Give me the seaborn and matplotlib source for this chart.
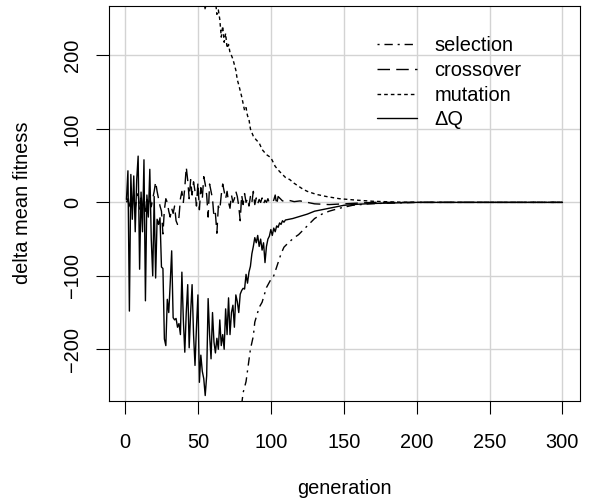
import matplotlib
matplotlib.use("Agg")
import matplotlib.pyplot as plt
import seaborn as sns

# generations and values
dq_gen = list(range(1, 111)) + [115, 120, 125, 130, 135, 140, 145, 150, 160, 170, 180, 190, 200, 250, 300]
dq_val = [4, 43, -148, 38, -23, 36, -40, 30, 63, -91,
          14, -40, 58, -134, 10, -20, 45, -50, -100, 8,
          -103, -23, -30, -21, -88, -90, -186, -195, -132, -150,
          -110, -66, -157, -160, -158, -170, -165, -180, -95, -160,
          -204, -150, -112, -198, -150, -112, -180, -222, -170, -126,
          -245, -208, -230, -240, -263, -236, -131, -180, -213, -150,
          -190, -205, -185, -200, -160, -195, -180, -200, -145, -180,
          -130, -180, -150, -140, -170, -126, -135, -150, -125, -120,
          -117, -118, -98, -110, -95, -87, -70, -60, -48, -55,
          -45, -60, -50, -65, -55, -82, -60, -50, -46, -37,
          -45, -35, -40, -32, -34, -28, -30, -25, -27, -24,
          -22, -19, -16, -12, -10, -8, -6, -4, -2.5, -1.5, -1, -0.5, 0, 0, 0]

cross_gen = list(range(1, 101)) + [102, 103, 104, 105, 108, 112, 116, 120, 125, 130, 140, 150, 160, 170, 200, 250, 300]
cross_val = [0, 5, -10, 8, -5, 10, -8, 5, 12, -10,
             6, -5, 10, -12, 4, -3, 8, -6, 5, 15,
             28, 15, 5, -5, -12, -43, -10, 5, 0, -12,
             -20, -8, -15, -5, -25, -30, -20, 5, 15, 0,
             20, 48, 30, 5, 31, 10, 28, 15, -5, 27,
             -10, 20, 5, 35, 25, 10, -20, 25, 15, 5,
             -20, -15, -42, -5, -10, 10, 25, 15, 5, 15,
             0, -8, 10, 0, 5, 15, 8, -5, -25, 10,
             -3, 12, 0, 5, -5, 8, 0, 15, -3, 6,
             -2, 4, 0, 6, -2, 3, 0, 5, -1, 0,
             3, 10, -3, 8, 2, 3, 1, 2, 0, -2, -3, -2, -1, 0, 0, 0, 0]

mut_gen = [50, 52, 54, 55, 56, 57, 59, 61, 62, 63, 64, 65, 66, 67, 68, 69, 70, 71, 72, 73,
           74, 76, 77, 78, 80, 82, 83, 84, 85, 86, 88, 90, 92, 94, 97, 100, 103, 106, 108, 110,
           113, 116, 119, 122, 125, 131, 138, 147, 159, 170, 185, 200, 250, 300]
mut_val = [340, 310, 285, 262, 280, 300, 310, 290, 275, 256, 262, 249, 225, 240, 218, 230, 210, 215, 204, 200,
           195, 180, 167, 160, 144, 125, 129, 118, 113, 100, 90, 85, 81, 72, 65, 61, 49, 42, 38, 34,
           31, 26, 22, 18, 15, 11, 8, 5, 3, 1.5, 0.5, 0, 0, 0]

sel_gen = [76, 78, 80, 81, 83, 86, 88, 89, 92, 94, 97, 100, 102, 105, 107, 109, 112, 116, 119, 124,
           130, 135, 140, 147, 156, 167, 180, 200, 250, 300]
sel_val = [-340, -300, -275, -259, -244, -200, -182, -163, -143, -136, -116, -105, -100, -82, -70, -61, -55, -48, -44, -34,
           -22, -16, -12, -8, -4, -2, -1, 0, 0, 0]

x_ticks = [0, 50, 100, 150, 200, 250, 300]
y_ticks = [-200, -100, 0, 100, 200]

sns.set_style("ticks")
plt.rcParams['font.family'] = ['Liberation Sans', 'DejaVu Sans']
plt.rcParams['lines.scale_dashes'] = False
plt.rcParams['text.color'] = 'black'
plt.rcParams['axes.labelcolor'] = 'black'
plt.rcParams['xtick.color'] = 'black'
plt.rcParams['ytick.color'] = 'black'
fs = 14.4

fig = plt.figure(figsize=(5.9, 5.04), dpi=100)
ax = fig.add_axes([0.1847, 0.205, 0.983 - 0.1847, 0.989 - 0.205])

series = [
    ("selection", sel_gen, sel_val, (0, (1.5, 3.5, 6, 3.5))),
    ("crossover", cross_gen, cross_val, (0, (9, 4.5))),
    ("mutation", mut_gen, mut_val, (0, (2.6, 2.2))),
    ("\u0394Q", dq_gen, dq_val, "-"),
]
handles = []
for name, g, v, ls in series:
    sns.lineplot(x=g, y=v, ax=ax, color="black", lw=1.0, linestyle=ls,
                 estimator=None, sort=False, label=name, legend=False)
    handles.append(ax.lines[-1])

ax.set_xlim(-11, 312)
ax.set_ylim(-270, 268)
ax.set_xticks(x_ticks)
ax.set_yticks(y_ticks)
ax.grid(True, color="#d3d3d3", lw=1.0)
ax.set_axisbelow(True)
for s in ax.spines.values():
    s.set_visible(True)
    s.set_color("black")
    s.set_linewidth(0.8)
ax.tick_params(axis="both", length=9.1, width=0.8, color="black",
               labelcolor="black", labelsize=fs)
ax.tick_params(axis="x", pad=14.5)
ax.tick_params(axis="y", pad=10.5)
for lab in ax.get_yticklabels():
    lab.set_rotation(90)
    lab.set_va("center")

ax.set_xlabel("generation", fontsize=fs, labelpad=19)
ax.set_ylabel("delta mean fitness", fontsize=fs, labelpad=22)

ax.legend(handles, [s[0] for s in series], loc="upper left", bbox_to_anchor=(0.57, 0.923),
          frameon=False, handlelength=2.0, handletextpad=0.85, labelspacing=0.29,
          borderpad=0, borderaxespad=0, fontsize=fs)

fig.savefig("out.png", dpi=100)
